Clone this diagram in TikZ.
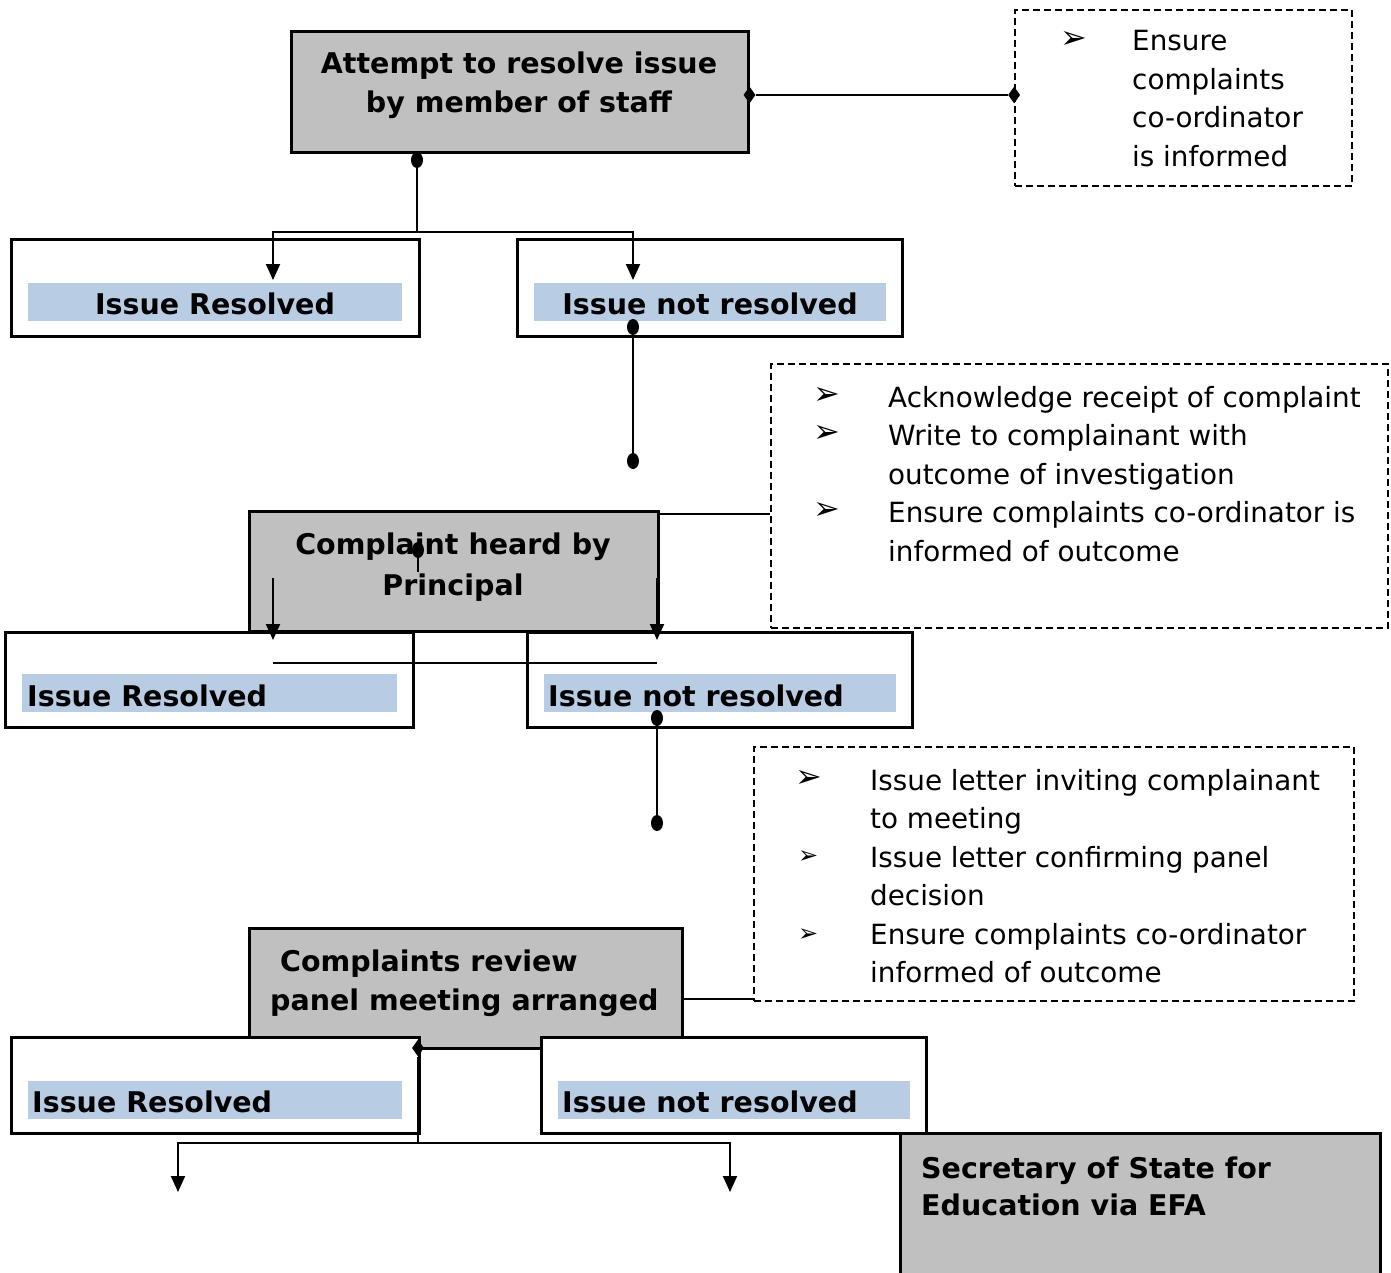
\documentclass[tikz,border=0pt]{standalone}
\usepackage{fontspec}
\setmainfont{DejaVu Sans}
\usetikzlibrary{arrows.meta,shapes.geometric}
\definecolor{boxgray}{HTML}{C0C0C0}
\definecolor{bandblue}{HTML}{B8CCE4}

\begin{document}
\begin{tikzpicture}[x=1pt,y=-1pt,
  box/.style={draw,line width=3pt,inner sep=0pt},
  graybox/.style={box,fill=boxgray},
  whitebox/.style={box,fill=white},
  band/.style={fill=bandblue,inner sep=0pt,minimum height=38pt},
  note/.style={draw,line width=1.7pt,dash pattern=on 7pt off 4pt,inner sep=0pt},
  head/.style={font=\fontsize{28.5}{39}\selectfont\bfseries,inner sep=0pt},
  body/.style={font=\fontsize{27.8}{38.5}\selectfont,inner sep=0pt,align=left,anchor=base west},
  tick/.style={font=\fontsize{32}{32}\selectfont\bfseries,inner sep=0pt,anchor=west},
  small tick/.style={tick,font=\fontsize{24}{24}\selectfont\bfseries},
  ball/.style={ellipse,fill,inner sep=0pt,minimum width=12pt,minimum height=16pt},
  gem/.style={diamond,fill,inner sep=0pt,minimum width=12pt,minimum height=17pt},
  wire/.style={line width=2pt},
  arr/.style={wire,-{Triangle[length=16pt,width=14pt]}}]
\useasboundingbox (0,0) rectangle (1391,1273);

% first stage
\node [graybox,minimum width=457pt,minimum height=121pt] (attempt) at (519.5,92.5) {};
\node [head,align=center,anchor=base] (attemptT) at (519,113) {Attempt to resolve issue\\by member of staff};
\node [note,minimum width=337pt,minimum height=176pt] (note1) at (1183.5,98) {};
\node [tick] (b11) at (1060,40) {➢};
\node [body] (note1T) at (1132,166.5) {Ensure\\complaints\\co-ordinator\\is informed};

\node [whitebox,minimum width=408pt,minimum height=96pt] (res1) at (215,288) {};
\node [band,minimum width=374pt] (band1) at (215,302) {};
\node [head,anchor=base] (res1T) at (215,314) {Issue Resolved};
\node [whitebox,minimum width=385pt,minimum height=96pt] (nres1) at (709.5,288) {};
\node [band,minimum width=352pt] (nband1) at (710,302) {};
\node [head,anchor=base] (nres1T) at (710,314) {Issue not resolved};

% second stage
\node [note,minimum width=617pt,minimum height=264pt] (note2) at (1079.5,496) {};
\node [tick] (b21) at (813,396) {➢};
\node [tick] (b22) at (813,434) {➢};
\node [tick] (b23) at (813,511) {➢};
\node [body] (note2T) at (888,561) {Acknowledge receipt of complaint\\Write to complainant with\\outcome of investigation\\Ensure complaints co-ordinator is\\informed of outcome};

\node [graybox,minimum width=409pt,minimum height=120pt] (heard) at (453.5,571) {};
\node [head,align=center,anchor=base,font=\fontsize{28.5}{41}\selectfont\bfseries] (heardT) at (453,595) {Complaint heard by\\Principal};

\node [whitebox,minimum width=408pt,minimum height=95pt] (res2) at (209,679.5) {};
\node [band,minimum width=375pt] (band2) at (209.5,693) {};
\node [head,anchor=base west] (res2T) at (27,706) {Issue Resolved};
\node [whitebox,minimum width=385pt,minimum height=95pt] (nres2) at (719.5,679.5) {};
\node [band,minimum width=352pt] (nband2) at (720,693) {};
\node [head,anchor=base west] (nres2T) at (548,706) {Issue not resolved};

% third stage
\node [note,minimum width=600pt,minimum height=254pt] (note3) at (1054,874) {};
\node [tick] (b31) at (795,779) {➢};
\node [small tick] (b32) at (798,857) {➢};
\node [small tick] (b33) at (798,935) {➢};
\node [body] (note3T) at (870,982.5) {Issue letter inviting complainant\\to meeting\\Issue letter confirming panel\\decision\\Ensure complaints co-ordinator\\informed of outcome};

\node [graybox,minimum width=433pt,minimum height=120pt] (panel) at (465.5,988) {};
\node [head,align=left,anchor=base west] (panelT) at (270,1010) {\hspace*{10pt}Complaints review\\panel meeting arranged};

\node [whitebox,minimum width=408pt,minimum height=96pt] (res3) at (215,1085) {};
\node [band,minimum width=374pt] (band3) at (215,1100) {};
\node [head,anchor=base west] (res3T) at (32,1112) {Issue Resolved};
\node [whitebox,minimum width=385pt,minimum height=96pt] (nres3) at (733.5,1085) {};
\node [band,minimum width=352pt] (nband3) at (734,1100) {};
\node [head,anchor=base west] (nres3T) at (562,1112) {Issue not resolved};

\node [graybox,minimum width=480pt,minimum height=160pt] (sos) at (1140,1213) {};
\node [head,align=left,anchor=base west,font=\fontsize{28.5}{37}\selectfont\bfseries] (sosT) at (921,1215) {Secretary of State for\\Education via EFA};

% connectors
\node [gem] (gemA) at ([yshift=-2.5pt]attempt.east) {};
\node [gem] (gemN) at (gemA -| note1.west) {};
\draw [wire] (gemA) -- (gemN);
\node [ball] (ballA) at (417,160) {};
\coordinate (forkA) at (417,232);
\coordinate (inR1) at (273,280);
\coordinate (inN1) at (633,280);
\draw [wire] (ballA) -- (forkA);
\draw [arr] (forkA) -| (inR1);
\draw [arr] (forkA) -| (inN1);
\node [ball] (ballN1) at (633,327) {};
\node [ball] (ballN1b) at (633,461) {};
\draw [wire] (ballN1) -- (ballN1b);

\draw [wire] ([yshift=-4pt]heard.north east) -- ([yshift=-4pt]heard.north east -| note2.west);
\node [ball] (ballH) at (418,550) {};
\coordinate (stubH) at (418,572);
\draw [wire] (ballH) -- (stubH);
\coordinate (tailL) at (273,578);
\coordinate (headL) at (273,640);
\coordinate (tailR) at (657,578);
\coordinate (headR) at (657,640);
\draw [arr] (tailL) -- (headL);
\draw [arr] (tailR) -- (headR);
\coordinate (barL) at (273,663);
\coordinate (barR) at (657,663);
\draw [wire] (barL) -- (barR);
\node [ball] (ballN2) at (657,718) {};
\node [ball] (ballN2b) at (657,823) {};
\draw [wire] (ballN2) -- (ballN2b);

\draw [wire] ([yshift=-11pt]panel.east) -- ([yshift=-11pt]panel.east -| note3.west);
\node [gem] (gemP) at (418,1048) {};
\coordinate (forkP) at (418,1143);
\coordinate (outL) at (178,1192);
\coordinate (outR) at (730,1192);
\draw [wire] (gemP) -- (forkP);
\draw [arr] (forkP) -| (outL);
\draw [arr] (forkP) -| (outR);
\end{tikzpicture}
\end{document}
